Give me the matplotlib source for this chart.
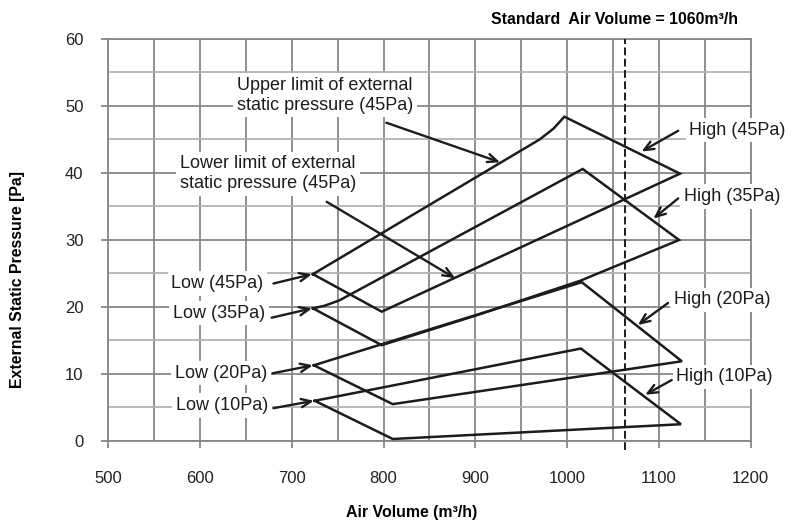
import matplotlib
matplotlib.use("Agg")
import matplotlib.pyplot as plt
from matplotlib.ticker import MultipleLocator

plt.rcParams['font.family'] = ['Liberation Sans', 'DejaVu Sans']

# ---- data ----
x_ticks = [500, 600, 700, 800, 900, 1000, 1100, 1200]
y_ticks = [0, 10, 20, 30, 40, 50, 60]

p45_x = [723, 970, 985, 997, 1123, 798, 723]
p45_y = [24.9, 45.0, 46.6, 48.4, 39.9, 19.3, 24.9]

p35_x = [723, 736, 752, 1017, 1122, 1014, 900, 798, 723]
p35_y = [19.8, 20.2, 21.0, 40.6, 30.0, 23.9, 18.7, 14.3, 19.8]

p20_x = [724, 1016, 1125, 810, 724]
p20_y = [11.3, 23.7, 11.9, 5.5, 11.3]

p10_x = [725, 1015, 1124, 810, 725]
p10_y = [6.0, 13.8, 2.5, 0.3, 6.0]

standard_volume = 1063

GRID_DARK = '#878787'
GRID_LIGHT = '#b3b3b3'
INK = '#1c1c1c'

fig = plt.figure(figsize=(7.92, 5.26), dpi=100)
ax = fig.add_axes([0.1367, 0.1616, 0.8111, 0.7643])

ax.set_xlim(500, 1200)
ax.set_ylim(0, 60)
ax.set_xticks(x_ticks)
ax.set_yticks(y_ticks)
ax.xaxis.set_minor_locator(MultipleLocator(50))
ax.yaxis.set_minor_locator(MultipleLocator(5))
ax.set_axisbelow(True)
ax.grid(which='major', axis='both', color=GRID_DARK, lw=1.3)
ax.grid(which='minor', axis='x', color=GRID_DARK, lw=1.3)
ax.grid(which='minor', axis='y', color=GRID_LIGHT, lw=1.3)
ax.tick_params(which='major', direction='out', length=4.8, width=1.3,
               color=GRID_DARK, labelsize=12, labelcolor='#222222')
ax.tick_params(axis='x', which='major', pad=17)
ax.tick_params(axis='y', which='major', pad=13)
ax.tick_params(which='minor', length=0)
for s in ax.spines.values():
    s.set_color(GRID_DARK)
    s.set_linewidth(1.3)

for xs, ys in [(p45_x, p45_y), (p35_x, p35_y), (p20_x, p20_y), (p10_x, p10_y)]:
    ax.plot(xs, ys, color=INK, lw=1.8, solid_joinstyle='miter', zorder=3)

ax.plot([standard_volume, standard_volume], [-1.4, 60], color=INK, lw=1.4,
        ls=(0, (4, 1.8)), clip_on=False, zorder=4)

box = dict(boxstyle='square,pad=0.2', fc='white', ec='none')
tkw = dict(fontsize=13, color=INK, bbox=box, zorder=5, linespacing=1.2)

ax.text(640, 51.6, 'Upper limit of external\nstatic pressure (45Pa)', ha='left', va='center', **tkw)
ax.text(578, 39.9, 'Lower limit of external\nstatic pressure (45Pa)', ha='left', va='center', **tkw)
ax.text(1133, 46.4, 'High (45Pa)', ha='left', va='center', clip_on=False, **tkw)
ax.text(1127, 36.5, 'High (35Pa)', ha='left', va='center', clip_on=False, **tkw)
ax.text(1116, 21.1, 'High (20Pa)', ha='left', va='center', clip_on=False, **tkw)
ax.text(1119, 9.6, 'High (10Pa)', ha='left', va='center', clip_on=False, **tkw)
ax.text(669, 23.5, 'Low (45Pa)', ha='right', va='center', **tkw)
ax.text(671, 19.1, 'Low (35Pa)', ha='right', va='center', **tkw)
ax.text(673, 10.1, 'Low (20Pa)', ha='right', va='center', **tkw)
ax.text(674, 5.3, 'Low (10Pa)', ha='right', va='center', **tkw)

arrows = [
    ((803, 47.5), (927, 41.6)),
    ((738, 35.7), (878, 24.3)),
    ((1121, 46.3), (1081, 43.2)),
    ((1121, 36.2), (1094, 33.2)),
    ((1110, 20.6), (1077, 17.3)),
    ((1114, 9.1), (1085, 6.9)),
    ((680, 23.5), (722, 24.9)),
    ((678, 18.4), (722, 19.8)),
    ((679, 10.1), (723, 11.3)),
    ((680, 4.9), (724, 6.0)),
]
for start, tip in arrows:
    ax.annotate('', xy=tip, xytext=start, annotation_clip=False,
                arrowprops=dict(arrowstyle='->,head_length=0.7,head_width=0.3',
                                color=INK, lw=1.7, shrinkA=0, shrinkB=0,
                                mutation_scale=10), zorder=6)

fig.text(738 / 792, 1 - 19 / 526, 'Standard  Air Volume = 1060m\u00b3/h',
         ha='right', va='center', fontsize=11.4, fontweight='bold', color='black')
fig.text(411.5 / 792, 1 - 512 / 526, 'Air Volume (m\u00b3/h)',
         ha='center', va='center', fontsize=11.4, fontweight='bold', color='black')
fig.text(17.5 / 792, 1 - 279.5 / 526, 'External Static Pressure [Pa]', rotation=90,
         ha='center', va='center', fontsize=11.4, fontweight='bold', color='black')

fig.savefig('out.png', dpi=100)
